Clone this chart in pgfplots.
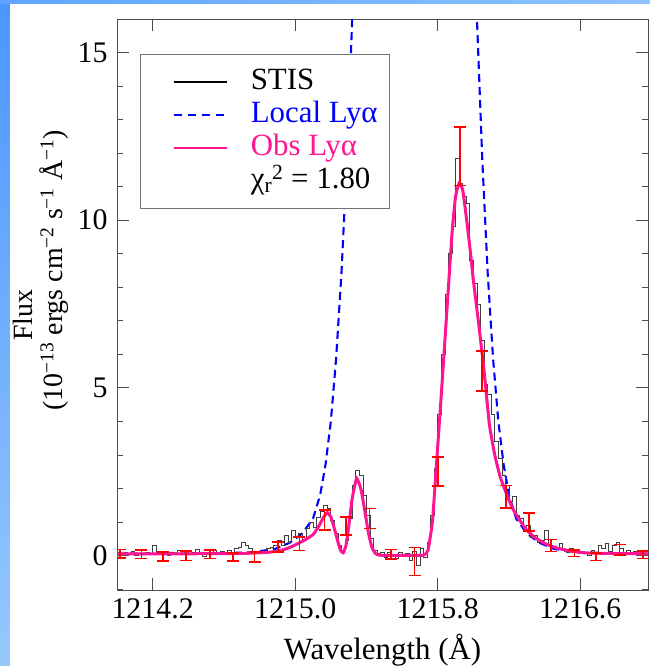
\documentclass[border=0pt]{standalone}
\usepackage{fontspec}
\setmainfont{Liberation Serif}
\usepackage{pgfplots}
\usepackage{pgfplotstable}
\pgfplotsset{compat=1.18}
\definecolor{obspink}{RGB}{255,20,147}
\definecolor{bandA}{RGB}{75,150,255}
\definecolor{bandB}{RGB}{150,200,252}
\definecolor{bandC}{RGB}{95,165,255}
\definecolor{bandD}{RGB}{140,195,255}

\pgfplotstableread{
x y
1214.00 0.08
1214.02 0.02
1214.04 0.10
1214.06 0.05
1214.08 0.12
1214.10 0.00
1214.12 0.06
1214.14 0.03
1214.16 0.10
1214.18 0.05
1214.20 0.30
1214.22 0.02
1214.24 0.06
1214.26 0.10
1214.28 0.00
1214.30 0.08
1214.32 0.05
1214.34 0.15
1214.36 0.04
1214.38 0.12
1214.40 0.02
1214.42 0.10
1214.44 0.18
1214.46 0.06
1214.48 -0.02
1214.50 0.10
1214.52 0.05
1214.54 0.16
1214.56 0.08
1214.58 0.12
1214.60 0.03
1214.62 0.15
1214.64 0.08
1214.66 0.20
1214.68 0.25
1214.70 0.38
1214.72 0.30
1214.74 0.22
1214.76 0.10
1214.78 0.05
1214.80 0.12
1214.82 0.08
1214.84 0.20
1214.86 0.25
1214.88 0.30
1214.90 0.45
1214.92 0.30
1214.94 0.60
1214.96 0.40
1214.98 0.75
1215.00 0.55
1215.02 0.65
1215.04 0.45
1215.06 0.80
1215.08 1.00
1215.10 0.85
1215.12 1.15
1215.14 1.30
1215.16 1.50
1215.18 1.40
1215.20 1.05
1215.22 0.65
1215.24 0.30
1215.26 0.15
1215.28 0.45
1215.30 1.10
1215.32 2.10
1215.34 2.55
1215.36 2.40
1215.38 1.80
1215.40 1.20
1215.42 0.50
1215.44 0.15
1215.46 0.05
1215.48 0.10
1215.50 -0.05
1215.52 0.08
1215.54 0.02
1215.56 -0.08
1215.58 0.10
1215.60 0.00
1215.62 0.05
1215.64 -0.15
1215.66 0.12
1215.68 -0.30
1215.70 0.20
1215.72 -0.05
1215.74 0.40
1215.76 1.20
1215.78 2.60
1215.80 4.20
1215.82 6.00
1215.84 7.80
1215.86 9.00
1215.88 9.80
1215.90 11.85
1215.92 11.10
1215.94 10.70
1215.96 10.50
1215.98 8.80
1216.00 8.10
1216.02 7.50
1216.04 6.40
1216.06 5.10
1216.08 4.80
1216.10 4.20
1216.12 3.40
1216.14 2.90
1216.16 2.40
1216.18 2.10
1216.20 1.60
1216.22 1.75
1216.24 1.20
1216.26 1.10
1216.28 0.80
1216.30 0.90
1216.32 0.55
1216.34 0.60
1216.36 0.40
1216.38 0.45
1216.40 0.75
1216.42 0.30
1216.44 0.25
1216.46 0.20
1216.48 0.35
1216.50 0.15
1216.52 0.10
1216.54 0.20
1216.56 0.08
1216.58 0.12
1216.60 0.05
1216.62 0.10
1216.64 0.00
1216.66 0.15
1216.68 0.05
1216.70 0.30
1216.72 0.20
1216.74 0.35
1216.76 0.12
1216.78 0.30
1216.80 0.40
1216.82 0.20
1216.84 0.08
1216.86 0.15
1216.88 0.05
1216.90 0.12
1216.92 0.02
1216.94 0.15
1216.96 0.05
1216.98 0.10
}\stis

\pgfplotstableread{
x y
1214.00 0.05
1214.40 0.05
1214.57 0.06
1214.77 0.10
1214.89 0.20
1214.97 0.38
1215.04 0.66
1215.10 1.10
1215.14 1.80
1215.17 2.70
1215.20 4.00
1215.23 5.90
1215.26 8.45
1215.29 11.8
1215.32 16.0
1215.34 19.3
1215.37 25.2
1215.42 37.0
1215.67 88.7
1215.92 37.0
1215.97 25.2
1216.00 19.3
1216.02 16.0
1216.05 11.8
1216.08 8.45
1216.11 5.90
1216.14 4.00
1216.17 2.70
1216.20 1.80
1216.24 1.10
1216.30 0.66
1216.37 0.38
1216.45 0.20
1216.57 0.10
1216.77 0.06
1216.98 0.05
}\local

\pgfplotstableread{
x y
1214.00 0.05
1214.40 0.05
1214.70 0.06
1214.80 0.08
1214.86 0.10
1214.92 0.15
1214.97 0.24
1215.01 0.34
1215.05 0.45
1215.10 0.62
1215.13 0.85
1215.155 1.10
1215.18 1.28
1215.20 1.15
1215.22 0.80
1215.24 0.40
1215.255 0.15
1215.27 0.08
1215.285 0.30
1215.30 0.85
1215.32 1.70
1215.345 2.30
1215.37 1.95
1215.39 1.35
1215.41 0.70
1215.43 0.25
1215.45 0.06
1215.47 0.01
1215.55 0.00
1215.65 0.00
1215.72 0.01
1215.745 0.15
1215.77 1.00
1215.79 2.50
1215.82 4.80
1215.85 7.20
1215.88 9.60
1215.90 10.70
1215.92 11.10
1215.94 10.90
1215.96 10.10
1215.98 9.20
1216.00 8.20
1216.03 6.90
1216.06 5.50
1216.09 3.90
1216.12 3.00
1216.15 2.35
1216.185 1.85
1216.22 1.40
1216.26 1.05
1216.30 0.75
1216.35 0.52
1216.40 0.36
1216.47 0.22
1216.55 0.13
1216.62 0.08
1216.75 0.06
1216.98 0.05
}\obs

\pgfplotstableread{
x y e
1214.015 0.05 0.125
1214.137 0.03 0.125
1214.258 -0.03 0.125
1214.389 -0.01 0.14
1214.520 0.03 0.125
1214.650 -0.05 0.12
1214.772 -0.05 0.15
1214.903 0.25 0.15
1215.024 0.35 0.20
1215.165 1.05 0.30
1215.286 0.87 0.27
1215.417 1.10 0.30
1215.539 0.04 0.14
1215.670 -0.18 0.42
1215.800 2.50 0.43
1215.925 11.90 0.87
1216.049 5.50 0.59
1216.184 1.75 0.34
1216.314 1.00 0.27
1216.436 0.30 0.18
1216.567 0.07 0.10
1216.688 -0.04 0.11
1216.820 0.17 0.16
1216.950 0.02 0.11
}\errs

\begin{document}
\begin{tikzpicture}[x=1bp,y=1bp]
\path[use as bounding box] (0,0) rectangle (650,666);
\shade[top color=bandA, bottom color=bandB] (0,0) rectangle (650,666);
\shade[left color=bandC, right color=bandD] (0,662) rectangle (650,666);
\fill[white] (10,0) rectangle (650,662);
\begin{axis}[
  at={(117bp,76bp)}, anchor=south west,
  scale only axis, width=531bp, height=571bp,
  xmin=1214.0, xmax=1216.98, ymin=-1.03, ymax=16.0,
  xtick={1214.2,1215.0,1215.8,1216.6},
  xticklabels={1214.2,1215.0,1215.8,1216.6},
  ytick={0,5,10,15}, yticklabels={0,5,10,15},
  minor ytick={-1,1,2,3,4,6,7,8,9,11,12,13,14,16},
  tick align=inside,
  major tick length=12bp, minor tick length=6bp,
  every tick/.style={black!70, line width=0.7bp},
  axis line style={black!70, line width=0.8bp},
  /pgf/number format/assume math mode=true,
  ticklabel style={font=\fontsize{30}{32}\selectfont},
  xticklabel style={yshift=-5bp},
  yticklabel style={xshift=-6bp},
  xlabel={Wavelength (Å)},
  xlabel style={font=\fontsize{31}{33}\selectfont, at={(axis description cs:0.5,0)}, anchor=center, yshift=-60bp},
  ylabel={Flux\hspace*{90bp}\\(10\textsuperscript{−13} ergs cm\textsuperscript{−2} s\textsuperscript{−1} Å\textsuperscript{−1})},
  ylabel style={font=\fontsize{28}{30}\selectfont, align=center, at={(axis description cs:-0.085,0.56)}, anchor=south},
  clip=true,
  legend cell align=left,
  legend image code/.code={\path (0bp,0bp); \draw[#1] (20bp,0bp) -- (73bp,0bp);},
  legend style={at={(rel axis cs:0.0433,0.9387)}, anchor=north west,
    draw=black!55, line width=0.8bp, fill=white,
    font=\fontsize{31}{34}\selectfont,
    inner xsep=12bp, inner ysep=11bp,
    nodes={inner sep=0bp, text height=24bp, text depth=9bp},
    /tikz/every odd column/.append style={column sep=23bp}},
]
\addlegendimage{black, line width=2.4bp}
\addlegendentry{STIS}
\addlegendimage{blue, line width=2.4bp, dash pattern=on 8bp off 6bp}
\addlegendentry{\textcolor{blue}{Local Lyα}}
\addlegendimage{obspink, line width=2.4bp}
\addlegendentry{\textcolor{obspink}{Obs Lyα}}
\addlegendimage{empty legend}
\addlegendentry{χ\textsubscript{r}\textsuperscript{2} = 1.80}

\addplot[forget plot, blue, line width=2.1bp, dash pattern=on 8bp off 5bp] table[x=x,y=y] {\local};
\addplot[forget plot, const plot, black!75, line width=0.75bp] table[x=x,y=y] {\stis};
\addplot[forget plot, obspink, line width=3bp, smooth, tension=0.3] table[x=x,y=y] {\obs};
\addplot[forget plot, red, mark=none, draw=none,
  error bars/.cd, y dir=both, y explicit,
  error bar style={red, line width=1.7bp},
  error mark options={rotate=90, mark size=6bp, line width=1.7bp, red}]
  table[x=x,y=y,y error=e] {\errs};
\end{axis}
\end{tikzpicture}
\end{document}
